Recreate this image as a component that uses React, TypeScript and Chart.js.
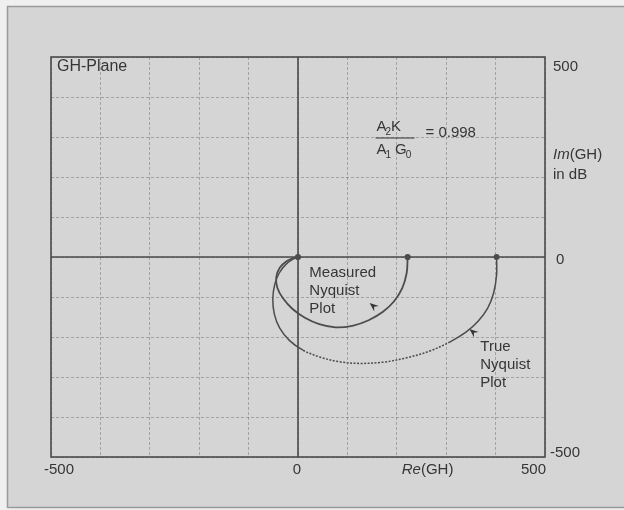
import React, { useEffect, useRef } from "react";
import { Chart, registerables } from "chart.js";

Chart.register(...registerables);

// ---- data ----
const measuredRe = [222, 220, 211, 195, 172, 143, 110, 76, 43, 14, -11, -30, -42, -44, -37, -24, -10, 0];
const measuredIm = [0, -40, -78, -110, -137, -158, -172, -176, -168, -152, -130, -104, -76, -50, -27, -11, -3, 0];

const trueRe = [402, 402, 396, 384, 365, 340, 308, 267, 220, 172, 125, 84, 44, 10, -17, -37, -48, -51, -47, -38, -25, -11, 0];
const trueIm = [0, -45, -90, -128, -160, -188, -212, -235, -252, -263, -266, -262, -250, -233, -209, -178, -142, -104, -68, -40, -19, -6, 0];

const xTickLabels = ["-500", "0", "500"];
const yTickLabels = ["500", "0", "-500"];
const axisMin = -500;
const axisMax = 500;
const gridStep = 100;

const ratioValue = "0.998";

// ---- annotation texts (data units) ----
const curveLabels = [
  { lines: ["Measured", "Nyquist", "Plot"], re: 23, im: -40 },
  { lines: ["True", "Nyquist", "Plot"], re: 369, im: -225 },
];
const pointerTips = [
  { re: 145, im: -115 },
  { re: 347, im: -180 },
];

const INK = "#363636";
const FONT = '"Liberation Sans", Arial, Helvetica, sans-serif';

const decorPlugin = {
  id: "decor",
  beforeDraw(chart: any) {
    const { ctx, width, height } = chart;
    ctx.save();
    ctx.fillStyle = "#efefef";
    ctx.fillRect(0, 0, width, height);
    ctx.fillStyle = "#d5d5d5";
    ctx.fillRect(7, 6, width - 7, 502);
    ctx.strokeStyle = "#9a9a9a";
    ctx.lineWidth = 1.5;
    ctx.beginPath();
    ctx.moveTo(7.5, 508);
    ctx.lineTo(7.5, 6.5);
    ctx.lineTo(width, 6.5);
    ctx.moveTo(7.5, 507.5);
    ctx.lineTo(width, 507.5);
    ctx.stroke();
    ctx.restore();
  },
  beforeDatasetsDraw(chart: any) {
    const { ctx, chartArea: a, scales } = chart;
    const x0 = scales.x.getPixelForValue(0);
    const y0 = scales.y.getPixelForValue(0);
    ctx.save();
    ctx.strokeStyle = "#4a4a4a";
    ctx.lineWidth = 1.6;
    ctx.strokeRect(a.left, a.top, a.right - a.left, a.bottom - a.top);
    ctx.beginPath();
    ctx.moveTo(a.left, y0);
    ctx.lineTo(a.right, y0);
    ctx.moveTo(x0, a.top);
    ctx.lineTo(x0, a.bottom);
    ctx.stroke();
    ctx.restore();
  },
  afterDatasetsDraw(chart: any) {
    const { ctx, chartArea: a, scales } = chart;
    const X = (v: number) => scales.x.getPixelForValue(v);
    const Y = (v: number) => scales.y.getPixelForValue(v);
    ctx.save();
    ctx.fillStyle = INK;
    ctx.textBaseline = "middle";

    // GH-Plane
    ctx.font = `16px ${FONT}`;
    ctx.textAlign = "left";
    ctx.fillText("GH-Plane", a.left + 6, a.top + 10);

    // curve labels
    ctx.font = `15px ${FONT}`;
    curveLabels.forEach((l) => {
      l.lines.forEach((t, i) => ctx.fillText(t, X(l.re), Y(l.im) + i * 18));
    });

    // pointer arrowheads (pointing up-left)
    pointerTips.forEach((p) => {
      const tx = X(p.re);
      const ty = Y(p.im);
      const ang = Math.atan2(-1, -1.2);
      const len = 9;
      const hw = 3.6;
      const bx = tx - Math.cos(ang) * len;
      const by = ty - Math.sin(ang) * len;
      const nx = -Math.sin(ang);
      const ny = Math.cos(ang);
      const mx = tx - Math.cos(ang) * len * 0.65;
      const my = ty - Math.sin(ang) * len * 0.65;
      ctx.beginPath();
      ctx.moveTo(tx, ty);
      ctx.lineTo(bx + nx * hw, by + ny * hw);
      ctx.lineTo(mx, my);
      ctx.lineTo(bx - nx * hw, by - ny * hw);
      ctx.closePath();
      ctx.fill();
    });

    // fraction A2K / A1 G0 = 0.998
    const fx = X(159);
    const fyTop = Y(325);
    const fyLine = Y(297.5);
    const fyBot = Y(267.5);
    const big = `15px ${FONT}`;
    const small = `10px ${FONT}`;
    let cx = fx;
    ctx.font = big;
    ctx.fillText("A", cx, fyTop);
    cx += ctx.measureText("A").width;
    ctx.font = small;
    ctx.fillText("2", cx - 1, fyTop + 5);
    cx += ctx.measureText("2").width;
    ctx.font = big;
    ctx.fillText("K", cx - 1, fyTop);

    cx = fx;
    ctx.fillText("A", cx, fyBot);
    cx += ctx.measureText("A").width;
    ctx.font = small;
    ctx.fillText("1", cx - 1, fyBot + 5);
    cx += ctx.measureText("1").width + 3;
    ctx.font = big;
    ctx.fillText("G", cx, fyBot);
    cx += ctx.measureText("G").width;
    ctx.font = small;
    ctx.fillText("0", cx - 1, fyBot + 5);

    ctx.strokeStyle = INK;
    ctx.lineWidth = 1.2;
    ctx.beginPath();
    ctx.moveTo(fx - 1, fyLine);
    ctx.lineTo(fx + 38, fyLine);
    ctx.stroke();

    ctx.font = big;
    ctx.fillText("= " + ratioValue, X(258), Y(310));

    // right side: y tick labels and axis title
    const rx = a.right + 8;
    ctx.fillText(yTickLabels[0], rx, a.top + 10);
    ctx.fillText(yTickLabels[1], rx + 3, Y(0) + 3);
    ctx.fillText(yTickLabels[2], rx - 3, a.bottom - 4);

    ctx.font = `italic 15px ${FONT}`;
    ctx.fillText("Im", rx, Y(255));
    const imW = ctx.measureText("Im").width;
    ctx.font = big;
    ctx.fillText("(GH)", rx + imW, Y(255));
    ctx.fillText("in dB", rx, Y(205));

    // bottom: x tick labels and axis title
    const by = a.bottom + 13;
    ctx.textAlign = "left";
    ctx.fillText(xTickLabels[0], a.left - 7, by);
    ctx.textAlign = "center";
    ctx.fillText(xTickLabels[1], X(0) - 1, by);
    ctx.textAlign = "right";
    ctx.fillText(xTickLabels[2], a.right + 1, by);

    ctx.textAlign = "left";
    const reX = X(210);
    ctx.font = `italic 15px ${FONT}`;
    ctx.fillText("Re", reX, by);
    const reW = ctx.measureText("Re").width;
    ctx.font = big;
    ctx.fillText("(GH)", reX + reW, by);

    ctx.restore();
  },
};

export default function App() {
  const ref = useRef<HTMLCanvasElement | null>(null);

  useEffect(() => {
    document.body.style.margin = "0";
    if (!ref.current) return;
    const toPts = (xs: number[], ys: number[]) => xs.map((x, i) => ({ x, y: ys[i] }));
    const lineColor = "#4c4c4c";
    const chart = new Chart(ref.current, {
      type: "scatter",
      data: {
        datasets: [
          {
            label: "Measured Nyquist Plot",
            data: toPts(measuredRe, measuredIm),
            showLine: true,
            borderColor: lineColor,
            backgroundColor: lineColor,
            borderWidth: 1.8,
            tension: 0.35,
            pointRadius: (c: any) => (c.dataIndex === 0 || c.dataIndex === measuredRe.length - 1 ? 2.2 : 0),
          },
          {
            label: "True Nyquist Plot",
            data: toPts(trueRe, trueIm),
            showLine: true,
            borderColor: lineColor,
            backgroundColor: lineColor,
            borderWidth: 1.5,
            tension: 0.35,
            pointRadius: (c: any) => (c.dataIndex === 0 ? 2.2 : 0),
            segment: {
              borderDash: (c: any) =>
                c.p0.parsed.y < -205 && c.p1.parsed.y < -205 && c.p0.parsed.x > 0 && c.p1.parsed.x > 0
                  ? [2, 1.5]
                  : undefined,
            },
          },
        ],
      },
      options: {
        animation: false,
        responsive: false,
        layout: { padding: { left: 51, top: 57, right: 79, bottom: 53 } },
        plugins: { legend: { display: false }, tooltip: { enabled: false } },
        scales: {
          x: {
            type: "linear",
            min: axisMin,
            max: axisMax,
            ticks: { display: false, stepSize: gridStep },
            grid: { color: "rgba(80,80,80,0.38)", lineWidth: 1, drawTicks: false },
            border: { display: false, dash: [3, 2] },
          },
          y: {
            type: "linear",
            min: axisMin,
            max: axisMax,
            ticks: { display: false, stepSize: gridStep },
            grid: { color: "rgba(80,80,80,0.38)", lineWidth: 1, drawTicks: false },
            border: { display: false, dash: [3, 2] },
          },
        },
      },
      plugins: [decorPlugin],
    } as any);
    return () => chart.destroy();
  }, []);

  return (
    <div style={{ width: 624, height: 510 }}>
      <canvas ref={ref} width={624} height={510} style={{ display: "block", width: 624, height: 510 }} />
    </div>
  );
}
